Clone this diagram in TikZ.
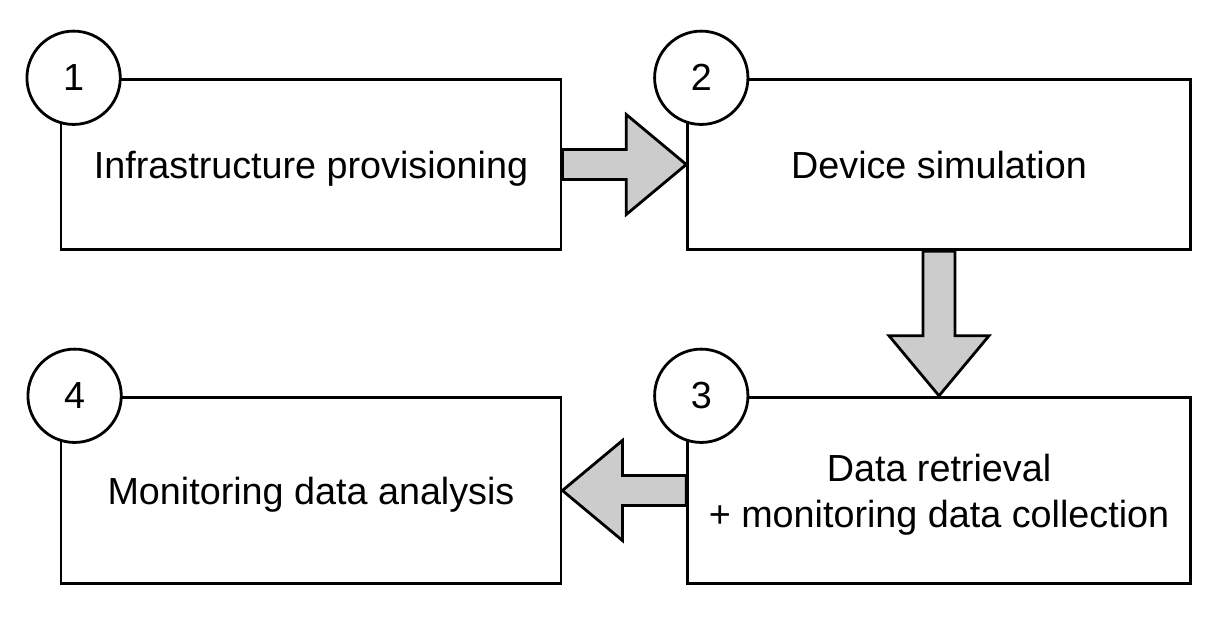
\documentclass[tikz,border=0pt]{standalone}
\usepackage{fontspec}
\setmainfont{Liberation Sans}
\usetikzlibrary{positioning, calc}

\begin{document}
\begin{tikzpicture}[x=0.75pt, y=-0.75pt,
  stage/.style={draw, rectangle, fill=white, line width=2.1pt, minimum width=375pt, minimum height=128pt, align=center, text depth=0pt, font=\fontsize{28.3}{34.5}\selectfont},
  num/.style={draw, circle, fill=white, line width=2.1pt, minimum size=70pt, inner sep=0pt, font=\fontsize{28.3}{34.5}\selectfont},
  flow/.style={draw, line width=2.1pt, fill=gray!40}]
\useasboundingbox (0,0) rectangle (1224,626);
\node[stage] (B1) at (311,164.5) {Infrastructure provisioning};
\node[stage, minimum width=377pt] (B2) at (939,164.5) {Device simulation};
\node[stage, minimum width=377pt, minimum height=140pt] (B3) at (939,490.5) {Data retrieval\\+ monitoring data collection};
\node[stage, minimum height=140pt] (B4) at (311,490.5) {Monitoring data analysis};
% block arrows between the stages
\draw[flow] ($(B1.east)+(0,-15)$) -| ($(B2.west)+(-60,-50)$) -- (B2.west) -- ($(B2.west)+(-60,50)$) |- ($(B1.east)+(0,15)$) -- cycle;
\draw[flow] ($(B2.south)+(-16,0)$) |- ($(B3.north)+(-50,-60)$) -- (B3.north) -- ($(B3.north)+(50,-60)$) -| ($(B2.south)+(16,0)$) -- cycle;
\draw[flow] ($(B3.west)+(0,-15)$) -| ($(B4.east)+(60,-50)$) -- (B4.east) -- ($(B4.east)+(60,50)$) |- ($(B3.west)+(0,15)$) -- cycle;
% step numbers
\node[num] (N1) at ($(B1.north west)+(14,0)$) {1};
\node[num] (N2) at ($(B2.north west)+(15,0)$) {2};
\node[num] (N3) at ($(B3.north west)+(15,0)$) {3};
\node[num] (N4) at ($(B4.north west)+(15,0)$) {4};
\end{tikzpicture}
\end{document}
